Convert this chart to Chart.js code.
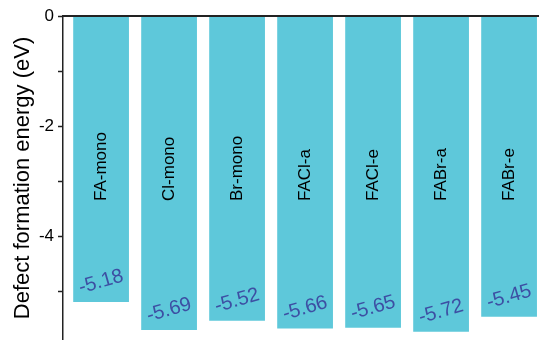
<!DOCTYPE html>
<html>
<head>
<meta charset="utf-8">
<script src="https://cdn.jsdelivr.net/npm/chart.js@4"></script>
<style>
  html, body { margin: 0; padding: 0; background: #fff; overflow: hidden; }
  canvas { display: block; }
</style>
</head>
<body>
<canvas id="grafico" width="539" height="340"></canvas>
<script>
// dados
var nomes = ['FA-mono', 'Cl-mono', 'Br-mono', 'FACl-a', 'FACl-e', 'FABr-a', 'FABr-e'];
var energias = [-5.18, -5.69, -5.52, -5.66, -5.65, -5.72, -5.45];
var ticksY = [0, -2, -4];

var corBarra = '#5ec8da';
var corValor = '#3d4fa3';
var fonte = '"Liberation Sans", Arial, sans-serif';

var pontos = [];
for (var i = 0; i < energias.length; i++) {
  pontos.push({ x: i, y: energias[i] });
}

// nomes dentro das barras e valores embaixo
var rotulos = {
  id: 'rotulos',
  afterDatasetsDraw: function (chart) {
    var ctx = chart.ctx;
    var meta = chart.getDatasetMeta(0);
    ctx.save();
    meta.data.forEach(function (bar, k) {
      // nome na vertical
      ctx.save();
      ctx.translate(bar.x, 201);
      ctx.rotate(-Math.PI / 2);
      ctx.font = '17px ' + fonte;
      ctx.fillStyle = '#000';
      ctx.textAlign = 'left';
      ctx.textBaseline = 'middle';
      ctx.fillText(nomes[k], 0, 0);
      ctx.restore();

      // valor inclinado
      ctx.save();
      ctx.translate(bar.x, bar.y - 20);
      ctx.rotate(-16 * Math.PI / 180);
      ctx.font = '20px ' + fonte;
      ctx.fillStyle = corValor;
      ctx.textAlign = 'center';
      ctx.textBaseline = 'middle';
      ctx.fillText(energias[k].toFixed(2), 0, 0);
      ctx.restore();
    });
    ctx.restore();
  },
  // linha do topo do quadro
  afterDraw: function (chart) {
    var ctx = chart.ctx;
    var area = chart.chartArea;
    ctx.save();
    ctx.fillStyle = '#222';
    ctx.fillRect(area.left, area.top - 1, area.right - area.left, 2);
    ctx.restore();
  }
};

var ctx = document.getElementById('grafico').getContext('2d');
var chart = new Chart(ctx, {
  type: 'bar',
  data: {
    datasets: [
      {
        data: pontos,
        backgroundColor: corBarra,
        borderWidth: 0,
        barPercentage: 1,
        categoryPercentage: 0.82
      }
    ]
  },
  options: {
    responsive: false,
    animation: false,
    layout: { autoPadding: false, padding: { top: 16, right: 0, bottom: 0, left: 0 } },
    plugins: {
      legend: { display: false },
      tooltip: { enabled: false }
    },
    scales: {
      x: {
        type: 'linear',
        display: false,
        offset: false,
        min: -0.56,
        max: 6.44
      },
      y: {
        min: -5.87,
        max: 0,
        ticks: {
          stepSize: 1,
          padding: 4,
          color: '#000',
          font: { size: 17, family: fonte },
          callback: function (v) {
            return ticksY.indexOf(v) >= 0 ? String(v) : '';
          }
        },
        afterBuildTicks: function (s) {
          s.ticks = s.ticks.filter(function (t) { return Number.isInteger(t.value); });
        },
        grid: {
          drawOnChartArea: false,
          drawTicks: true,
          tickLength: 5,
          tickColor: '#222',
          tickWidth: 1.5
        },
        border: { display: true, color: '#222', width: 1.5 },
        title: {
          display: true,
          text: 'Defect formation energy (eV)',
          color: '#000',
          padding: { top: 10, bottom: 0 },
          font: { size: 22, family: fonte }
        },
        afterFit: function (s) {
          s.width = 63;
          s.paddingTop = 0;
          s.paddingBottom = 0;
        }
      }
    }
  },
  plugins: [rotulos]
});
</script>
</body>
</html>
